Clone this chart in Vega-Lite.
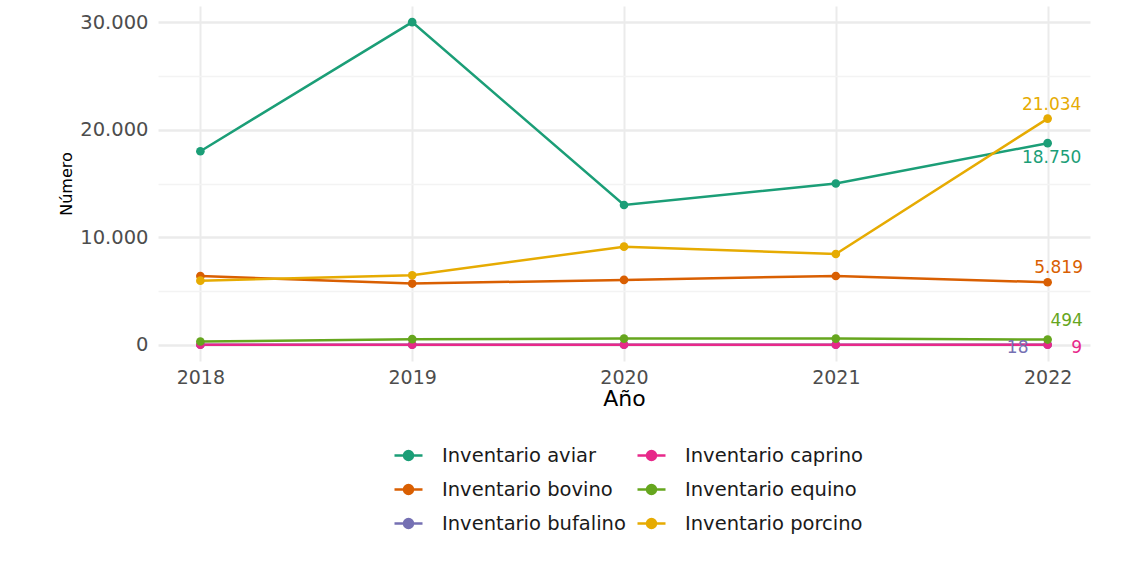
{
  "$schema": "https://vega.github.io/schema/vega-lite/v6.json",
  "width": 932,
  "height": 355,
  "autosize": {"type": "none"},
  "padding": {"left": 158, "top": 6, "right": 53, "bottom": 208},
  "background": "white",
  "config": {
    "locale": {"number": {"decimal": ",", "thousands": ".", "grouping": [3], "currency": ["$", ""]}},
    "view": {"stroke": null},
    "font": "DejaVu Sans"
  },
  "data": {
    "values": [
      {"anio": 2018, "serie": "Inventario aviar", "valor": 18000},
      {"anio": 2019, "serie": "Inventario aviar", "valor": 30000},
      {"anio": 2020, "serie": "Inventario aviar", "valor": 13000},
      {"anio": 2021, "serie": "Inventario aviar", "valor": 15000},
      {"anio": 2022, "serie": "Inventario aviar", "valor": 18750},
      {"anio": 2018, "serie": "Inventario bovino", "valor": 6400},
      {"anio": 2019, "serie": "Inventario bovino", "valor": 5700},
      {"anio": 2020, "serie": "Inventario bovino", "valor": 6040},
      {"anio": 2021, "serie": "Inventario bovino", "valor": 6400},
      {"anio": 2022, "serie": "Inventario bovino", "valor": 5819},
      {"anio": 2018, "serie": "Inventario bufalino", "valor": 20},
      {"anio": 2019, "serie": "Inventario bufalino", "valor": 22},
      {"anio": 2020, "serie": "Inventario bufalino", "valor": 20},
      {"anio": 2021, "serie": "Inventario bufalino", "valor": 18},
      {"anio": 2022, "serie": "Inventario bufalino", "valor": 18},
      {"anio": 2018, "serie": "Inventario caprino", "valor": 10},
      {"anio": 2019, "serie": "Inventario caprino", "valor": 12},
      {"anio": 2020, "serie": "Inventario caprino", "valor": 11},
      {"anio": 2021, "serie": "Inventario caprino", "valor": 9},
      {"anio": 2022, "serie": "Inventario caprino", "valor": 9},
      {"anio": 2018, "serie": "Inventario equino", "valor": 310},
      {"anio": 2019, "serie": "Inventario equino", "valor": 530},
      {"anio": 2020, "serie": "Inventario equino", "valor": 585},
      {"anio": 2021, "serie": "Inventario equino", "valor": 580},
      {"anio": 2022, "serie": "Inventario equino", "valor": 494},
      {"anio": 2018, "serie": "Inventario porcino", "valor": 5970},
      {"anio": 2019, "serie": "Inventario porcino", "valor": 6470},
      {"anio": 2020, "serie": "Inventario porcino", "valor": 9130},
      {"anio": 2021, "serie": "Inventario porcino", "valor": 8450},
      {"anio": 2022, "serie": "Inventario porcino", "valor": 21034}
    ]
  },
  "encoding": {
    "x": {
      "field": "anio", "type": "quantitative",
      "scale": {"domain": [2017.8, 2022.2], "nice": false, "zero": false},
      "axis": {
        "title": "Año", "values": [2018, 2019, 2020, 2021, 2022], "format": "d",
        "domain": false, "ticks": false, "labelFont": "DejaVu Sans", "labelFontSize": 19, "labelColor": "#4d4d4d",
        "labelPadding": 7, "titleFont": "DejaVu Sans", "titleFontSize": 22, "titleFontWeight": "normal", "titleColor": "#000000", "titlePadding": 1,
        "gridColor": "#ebebeb", "gridWidth": 2
      }
    },
    "y": {
      "field": "valor", "type": "quantitative",
      "scale": {"domain": [-1500, 31500], "nice": false, "zero": false},
      "axis": {
        "title": "Número", "values": [0, 5000, 10000, 15000, 20000, 25000, 30000], "format": ",d",
        "labelExpr": "datum.value % 10000 === 0 ? datum.label : ''",
        "domain": false, "ticks": false, "labelFont": "DejaVu Sans", "labelFontSize": 19.5, "labelColor": "#4d4d4d",
        "labelPadding": 10, "titleFont": "DejaVu Sans", "titleFontSize": 16, "titleFontWeight": "normal", "titleColor": "#000000", "titlePadding": 5,
        "gridColor": {"condition": {"test": "datum.value % 10000 === 0", "value": "#ebebeb"}, "value": "#f3f3f3"},
        "gridWidth": {"condition": {"test": "datum.value % 10000 === 0", "value": 2.5}, "value": 1.5}
      }
    },
    "color": {
      "field": "serie", "type": "nominal",
      "scale": {
        "domain": ["Inventario aviar", "Inventario caprino", "Inventario bovino", "Inventario equino", "Inventario bufalino", "Inventario porcino"],
        "range": ["#1B9E77", "#E7298A", "#D95F02", "#66A61E", "#7570B3", "#E6AB02"]
      },
      "legend": {
        "title": null, "orient": "none", "legendX": 235, "legendY": 434, "columns": 2, "direction": "horizontal",
        "symbolType": "M-1,0H1M0.32,0A0.32,0.32 0 1,1 -0.32,0A0.32,0.32 0 1,1 0.32,0Z",
        "symbolSize": 784, "symbolStrokeWidth": 2.5, "symbolOpacity": 1,
        "labelFont": "DejaVu Sans", "labelFontSize": 19.5, "labelColor": "#1a1a1a", "labelOffset": 18, "labelLimit": 0,
        "rowPadding": 9, "columnPadding": 6,
        "encode": {"symbols": {"update": {"fill": {"scale": "color", "field": "value"}, "stroke": {"scale": "color", "field": "value"}, "opacity": {"value": 1}}}}
      }
    }
  },
  "layer": [
    {"mark": {"type": "line", "strokeWidth": 2.5}},
    {"mark": {"type": "point", "filled": true, "size": 75, "opacity": 1}},
    {
      "transform": [{"filter": "datum.anio === 2022 && datum.serie === 'Inventario porcino'"}],
      "mark": {"type": "text", "fontSize": 17, "dy": -14, "dx": 4, "font": "DejaVu Sans"},
      "encoding": {"text": {"field": "valor", "type": "quantitative", "format": ",d"}}
    },
    {
      "transform": [{"filter": "datum.anio === 2022 && datum.serie === 'Inventario aviar'"}],
      "mark": {"type": "text", "fontSize": 17, "dy": 15, "dx": 4, "font": "DejaVu Sans"},
      "encoding": {"text": {"field": "valor", "type": "quantitative", "format": ",d"}}
    },
    {
      "transform": [{"filter": "datum.anio === 2022 && datum.serie === 'Inventario bovino'"}],
      "mark": {"type": "text", "fontSize": 17, "dy": -14, "dx": 11, "font": "DejaVu Sans"},
      "encoding": {"text": {"field": "valor", "type": "quantitative", "format": ",d"}}
    },
    {
      "transform": [{"filter": "datum.anio === 2022 && datum.serie === 'Inventario equino'"}],
      "mark": {"type": "text", "fontSize": 17, "dy": -19, "dx": 19, "font": "DejaVu Sans"},
      "encoding": {"text": {"field": "valor", "type": "quantitative", "format": ",d"}}
    },
    {
      "transform": [{"filter": "datum.anio === 2022 && datum.serie === 'Inventario caprino'"}],
      "mark": {"type": "text", "fontSize": 17, "dy": 3, "dx": 29, "font": "DejaVu Sans"},
      "encoding": {"text": {"field": "valor", "type": "quantitative", "format": ",d"}}
    },
    {
      "transform": [{"filter": "datum.anio === 2022 && datum.serie === 'Inventario bufalino'"}],
      "mark": {"type": "text", "fontSize": 17, "dy": 3, "dx": -30, "font": "DejaVu Sans"},
      "encoding": {"text": {"field": "valor", "type": "quantitative", "format": ",d"}}
    }
  ]
}
